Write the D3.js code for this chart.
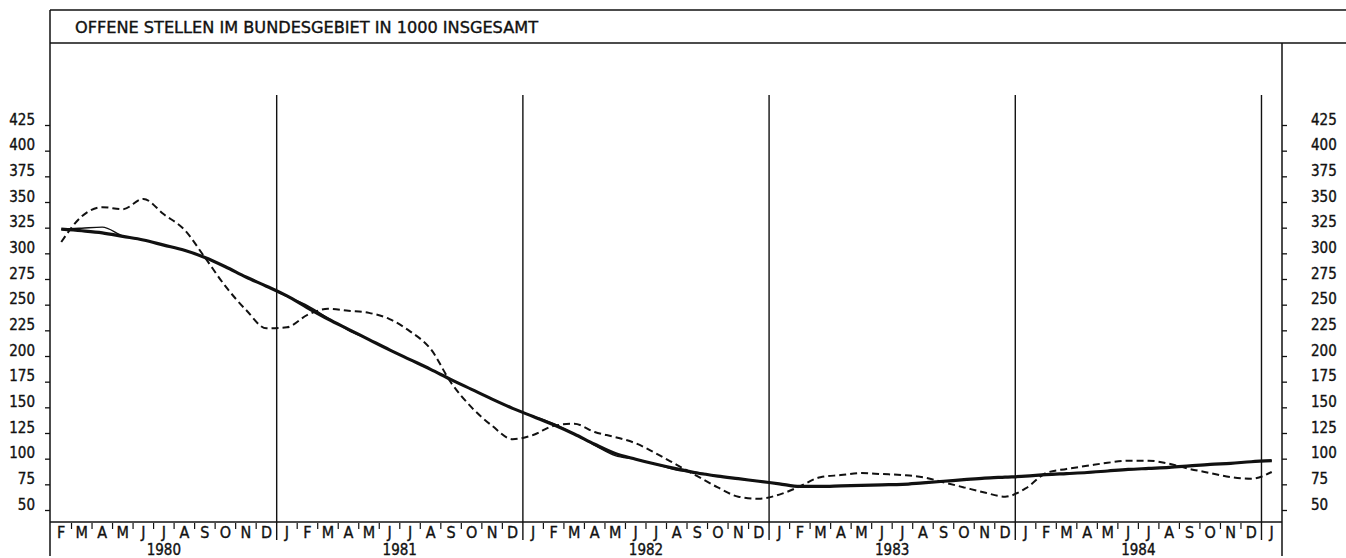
<!DOCTYPE html>
<html>
<head>
<meta charset="utf-8">
<script src="https://cdn.jsdelivr.net/npm/d3@7/dist/d3.min.js"></script>
<style>
  html, body { margin: 0; padding: 0; background: #fff; }
  svg { display: block; }
  text { font-family: "DejaVu Sans Condensed", "DejaVu Sans", sans-serif; fill: #111; stroke: #111; stroke-width: 0.35px; }
</style>
</head>
<body>
<div id="chart"></div>
<script>
// month letters per year (Feb 1980 .. Jan 1985)
var monthLetters = ['J', 'F', 'M', 'A', 'M', 'J', 'J', 'A', 'S', 'O', 'N', 'D'];
var years = ['1980', '1981', '1982', '1983', '1984'];
var yTicks = [50, 75, 100, 125, 150, 175, 200, 225, 250, 275, 300, 325, 350, 375, 400, 425];
var title = 'OFFENE STELLEN IM BUNDESGEBIET IN 1000 INSGESAMT';

// unadjusted values (dashed)
var rawValues = [
  311, 336, 345, 343, 353, 338, 323, 296, 268, 245, 227,
  228, 240, 246, 244, 242, 236, 224, 207, 174, 150, 132, 119,
  123, 132, 134, 126, 121, 115, 105, 94, 83, 72, 63, 61,
  65, 73, 82, 84, 86, 85, 84, 82, 77, 72, 67, 63,
  71, 86, 90, 93, 96, 98, 98, 95, 90, 86, 82, 80.5,
  87
];

// trend (thick line)
var trendValues = [
  323.5, 322, 320, 316.5, 313, 308, 303, 296, 287, 277, 268,
  258.5, 247, 236, 226, 216, 206, 196.5, 187, 177, 167.5, 158, 149,
  141, 133, 124, 114, 105, 99.5, 94.5, 90, 86, 83, 80.5, 78,
  75.5, 73, 73, 73.5, 74, 74.5, 75, 76.5, 78, 79.5, 81, 82,
  83, 84.5, 85.5, 86.5, 88, 89.5, 90.5, 91.5, 93, 94.5, 95.5, 97,
  98
];

// seasonally adjusted (thin line)
var adjValues = [
  323.5, 324.5, 325.5, 317, 313, 308, 303, 296, 287, 277, 268,
  258, 249, 237, 225, 216, 206, 196.5, 187, 177, 167.5, 158, 149,
  141.5, 134, 124, 113, 103, 99.5, 94.5, 89, 86.5, 83, 80.5, 78,
  75.5, 72.5, 73, 73, 74, 74, 75, 76.5, 78, 79.5, 81, 82,
  83, 84, 85.5, 86, 88, 89.5, 90.5, 91.5, 93, 94.5, 95.5, 97,
  98
];

var width = 1346, height = 558;
var left = 50, right = 1282;
var axisY = 522, yearTop = 95;
var titleTop = 10, titleBottom = 43;

// 60 equal month bands, first band = Feb 1980
var months = d3.range(60).map(function(i) {
  return { i: i, letter: monthLetters[(i + 1) % 12] };
});

var x = d3.scaleLinear().domain([0, 60]).range([51, 1282]);
var y = d3.scaleLinear().domain([50, 425]).range([510, 125]);

var svg = d3.select('#chart')
  .append('svg')
  .attr('width', width)
  .attr('height', height);

// title box
svg.append('line')
  .attr('x1', left).attr('x2', width)
  .attr('y1', titleTop).attr('y2', titleTop)
  .style('stroke', '#111').style('stroke-width', 1.4);
svg.append('line')
  .attr('x1', left).attr('x2', width)
  .attr('y1', titleBottom).attr('y2', titleBottom)
  .style('stroke', '#111').style('stroke-width', 1.4);
svg.append('text')
  .attr('x', 75)
  .attr('y', 33)
  .attr('textLength', 463)
  .attr('lengthAdjust', 'spacingAndGlyphs')
  .style('font-size', '16px')
  .text(title);

// frame lines
svg.append('line')
  .attr('x1', left).attr('x2', left)
  .attr('y1', titleTop).attr('y2', 556)
  .style('stroke', '#111').style('stroke-width', 1.5);
svg.append('line')
  .attr('x1', right).attr('x2', right)
  .attr('y1', titleBottom).attr('y2', 556)
  .style('stroke', '#111').style('stroke-width', 1.5);
svg.append('line')
  .attr('x1', left).attr('x2', right)
  .attr('y1', axisY).attr('y2', axisY)
  .style('stroke', '#111').style('stroke-width', 1.3);

// y axes on both sides
var leftAxis = svg.append('g')
  .attr('transform', 'translate(' + left + ',0)')
  .call(d3.axisLeft(y).tickValues(yTicks).tickSize(5).tickPadding(10));
var rightAxis = svg.append('g')
  .attr('transform', 'translate(' + right + ',0)')
  .call(d3.axisRight(y).tickValues(yTicks).tickSize(5).tickPadding(24));

[leftAxis, rightAxis].forEach(function(g) {
  g.select('.domain').remove();
  g.selectAll('.tick line').style('stroke', '#111').style('stroke-width', 1.3);
  g.selectAll('.tick text')
    .attr('dy', '-0.05em')
    .style('font-family', '"DejaVu Sans Condensed", sans-serif')
    .style('font-size', '15px')
    .style('fill', '#111');
});

// year separators
svg.selectAll('line.year')
  .data(months.filter(function(d) { return (d.i + 1) % 12 === 0; }))
  .enter()
  .append('line')
  .attr('class', 'year')
  .attr('x1', d => x(d.i)).attr('x2', d => x(d.i))
  .attr('y1', yearTop).attr('y2', 540)
  .style('stroke', '#111').style('stroke-width', 1.4);

// small month ticks below the axis
svg.selectAll('line.month')
  .data(months.filter(function(d) { return d.i > 0 && (d.i + 1) % 12 !== 0; }))
  .enter()
  .append('line')
  .attr('class', 'month')
  .attr('x1', d => x(d.i)).attr('x2', d => x(d.i))
  .attr('y1', axisY + 1).attr('y2', axisY + 7)
  .style('stroke', '#111').style('stroke-width', 1.2);

svg.selectAll('text.month')
  .data(months)
  .enter()
  .append('text')
  .attr('class', 'month')
  .attr('x', d => x(d.i + 0.5))
  .attr('y', 538)
  .attr('text-anchor', 'middle')
  .style('font-size', '16px')
  .text(d => d.letter);

// year labels centred under each year's months
svg.selectAll('text.yearlabel')
  .data(years)
  .enter()
  .append('text')
  .attr('class', 'yearlabel')
  .attr('x', function(d, k) {
    var a = k === 0 ? 0 : 11 + (k - 1) * 12;
    return (x(a) + x(11 + k * 12)) / 2;
  })
  .attr('y', 555)
  .attr('text-anchor', 'middle')
  .style('font-size', '15px')
  .text(d => d);

// series lines
var line = d3.line()
  .x(function(d, i) { return x(i + 0.5); })
  .y(function(d) { return y(d); })
  .curve(d3.curveMonotoneX);

svg.append('path')
  .datum(rawValues)
  .attr('d', line)
  .style('fill', 'none')
  .style('stroke', '#111')
  .style('stroke-width', 2)
  .style('stroke-dasharray', '7,4');

svg.append('path')
  .datum(adjValues)
  .attr('d', line)
  .style('fill', 'none')
  .style('stroke', '#111')
  .style('stroke-width', 1.4);

svg.append('path')
  .datum(trendValues)
  .attr('d', line)
  .style('fill', 'none')
  .style('stroke', '#111')
  .style('stroke-width', 3.2);
</script>
</body>
</html>
